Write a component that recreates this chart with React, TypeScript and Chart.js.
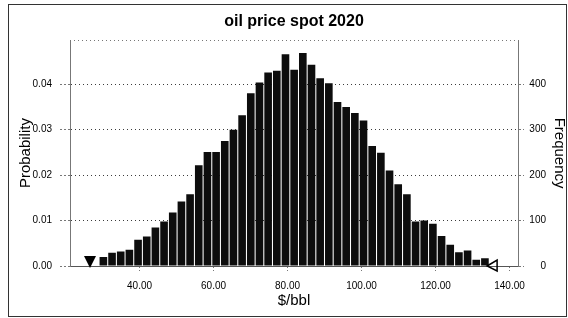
import React, { useEffect, useRef } from 'react';
import { Chart, registerables } from 'chart.js';

Chart.register(...registerables);

const chartTitle = 'oil price spot 2020';
const xTitle = '$/bbl';
const leftTitle = 'Probability';
const rightTitle = 'Frequency';

// histogram bins ($/bbl)
const binStart = 29.05;
const binWidth = 2.344;

// probability per bin
const probabilities = [
  0.002, 0.0029, 0.0032, 0.0036, 0.0058, 0.0065, 0.0085, 0.0098, 0.0118, 0.0142,
  0.0158, 0.0222, 0.0251, 0.0251, 0.0275, 0.03, 0.0332, 0.038, 0.0404, 0.0426,
  0.043, 0.0466, 0.0432, 0.0469, 0.0443, 0.0413, 0.0402, 0.0361, 0.035, 0.0337,
  0.032, 0.0264, 0.0249, 0.021, 0.018, 0.0158, 0.0098, 0.01, 0.0093, 0.0066,
  0.0047, 0.003, 0.0034, 0.0014, 0.0017,
];

const xTicks = [40, 60, 80, 100, 120, 140];
const probTicks = [0, 0.01, 0.02, 0.03, 0.04];
const freqTicks = [0, 100, 200, 300, 400];
const trials = 10000;
const xMin = 21.2;
const xMax = 142.3;
const probMax = 0.0497;
const grabberValues = [26.6, 135.3];

const FONT = "'Liberation Sans', Arial, Helvetica, sans-serif";

const decorPlugin = {
  id: 'decor',
  afterDraw(chart: any) {
    const { ctx, chartArea: a, scales } = chart;
    ctx.save();
    // outer frame
    ctx.strokeStyle = '#333';
    ctx.lineWidth = 1;
    ctx.setLineDash([]);
    ctx.strokeRect(8.5, 4.5, 558, 312);
    // dotted top edge of the plot
    ctx.strokeStyle = '#777';
    ctx.setLineDash([1, 3]);
    ctx.beginPath();
    ctx.moveTo(a.left, Math.round(a.top) + 0.5);
    ctx.lineTo(a.right, Math.round(a.top) + 0.5);
    ctx.stroke();
    ctx.setLineDash([]);
    // certainty grabbers
    const base = scales.y.getPixelForValue(0);
    const lx = scales.x.getPixelForValue(grabberValues[0]);
    ctx.fillStyle = '#000';
    ctx.beginPath();
    ctx.moveTo(lx - 6, base - 10);
    ctx.lineTo(lx + 6, base - 10);
    ctx.lineTo(lx, base + 2);
    ctx.closePath();
    ctx.fill();
    const rx = scales.x.getPixelForValue(grabberValues[1]);
    ctx.strokeStyle = '#000';
    ctx.lineWidth = 1.5;
    ctx.beginPath();
    ctx.moveTo(rx - 5, base);
    ctx.lineTo(rx + 5, base - 6);
    ctx.lineTo(rx + 5, base + 5);
    ctx.closePath();
    ctx.stroke();
    ctx.restore();
  },
};

export default function App() {
  const ref = useRef<HTMLCanvasElement | null>(null);

  useEffect(() => {
    if (!ref.current) return;
    const points = probabilities.map((p, i) => ({ x: binStart + binWidth * (i + 0.5), y: p }));
    const chart = new Chart(ref.current, {
      type: 'bar',
      data: {
        datasets: [
          {
            data: points as any,
            backgroundColor: '#0d0d0d',
            borderWidth: 0,
            barPercentage: 0.88,
            categoryPercentage: 1,
            yAxisID: 'y',
          },
        ],
      },
      options: {
        responsive: false,
        animation: false,
        devicePixelRatio: 1,
        layout: { padding: { left: 8, right: 0, top: 0, bottom: 5 } },
        font: { family: FONT } as any,
        plugins: {
          legend: { display: false },
          tooltip: { enabled: false },
          title: {
            display: true,
            text: chartTitle,
            fullSize: false,
            color: '#000',
            font: { family: FONT, size: 16, weight: 'bold', lineHeight: 1.2 },
            padding: { top: 12, bottom: 9 },
          },
        },
        scales: {
          x: {
            type: 'linear',
            min: xMin,
            max: xMax,
            offset: false,
            afterBuildTicks: (s: any) => {
              s.ticks = xTicks.map((v) => ({ value: v }));
            },
            afterFit: (s: any) => {
              s.height = 47;
            },
            ticks: {
              color: '#000',
              font: { family: FONT, size: 10 },
              padding: 8,
              maxRotation: 0,
              autoSkip: false,
              callback: (v: any) => Number(v).toFixed(2),
            },
            grid: {
              drawOnChartArea: false,
              offset: false,
              tickLength: 6,
              tickColor: '#777',
              tickBorderDash: [1, 2],
            },
            border: { display: true, color: '#555', dash: [1, 2] },
            title: {
              display: true,
              text: xTitle,
              color: '#000',
              font: { family: FONT, size: 15, lineHeight: 1.2 },
              padding: { top: 0, bottom: 3 },
            },
          },
          y: {
            type: 'linear',
            position: 'left',
            min: 0,
            max: probMax,
            afterBuildTicks: (s: any) => {
              s.ticks = probTicks.map((v) => ({ value: v }));
            },
            afterFit: (s: any) => {
              s.width = 62;
            },
            ticks: {
              color: '#000',
              font: { family: FONT, size: 10 },
              padding: 8,
              callback: (v: any) => Number(v).toFixed(2),
            },
            grid: {
              color: (c: any) => (c.tick && c.tick.value === 0 ? 'rgba(0,0,0,0)' : '#3c3c3c'),
              lineWidth: 1,
              tickLength: 10,
              tickColor: '#777',
              tickBorderDash: [2, 2],
            },
            border: { display: true, color: '#777', dash: [1, 3] },
            title: {
              display: true,
              text: leftTitle,
              color: '#000',
              font: { family: FONT, size: 15, lineHeight: 1.2 },
              padding: { top: 9, bottom: 0 },
            },
          },
          y1: {
            type: 'linear',
            position: 'right',
            min: 0,
            max: probMax * trials,
            afterBuildTicks: (s: any) => {
              s.ticks = freqTicks.map((v) => ({ value: v }));
            },
            afterFit: (s: any) => {
              s.width = 28;
            },
            ticks: {
              color: '#000',
              font: { family: FONT, size: 10 },
              padding: 4,
              crossAlign: 'far',
              callback: (v: any) => String(v),
            },
            grid: {
              drawOnChartArea: false,
              tickLength: 6,
              tickColor: '#777',
              tickBorderDash: [2, 2],
            },
            border: { display: true, color: '#777', dash: [1, 3] },
          },
          y2: {
            type: 'linear',
            position: 'right',
            afterFit: (s: any) => {
              s.width = 22;
            },
            ticks: { display: false },
            grid: { display: false },
            border: { display: false },
            title: {
              display: true,
              text: rightTitle,
              color: '#000',
              font: { family: FONT, size: 15, lineHeight: 1.2 },
              padding: { top: 0, bottom: 0 },
            },
          },
        },
      } as any,
      plugins: [decorPlugin],
    });
    return () => chart.destroy();
  }, []);

  return (
    <div style={{ position: 'fixed', left: 0, top: 0, width: 568, height: 318, background: '#fff' }}>
      <canvas ref={ref} width={568} height={318} style={{ display: 'block', width: 568, height: 318 }} />
    </div>
  );
}
